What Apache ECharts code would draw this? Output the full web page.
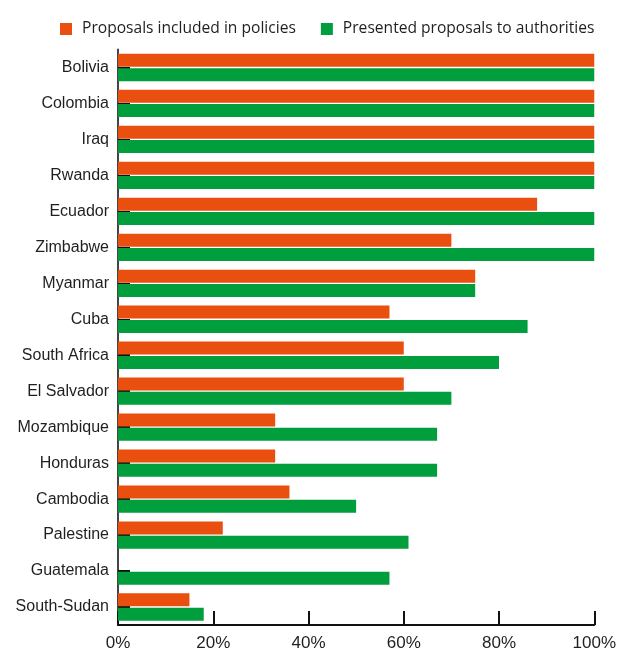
<!DOCTYPE html>
<html>
<head>
<meta charset="utf-8">
<script src="https://cdn.jsdelivr.net/npm/echarts@6/dist/echarts.min.js"></script>
<style>
  html, body { margin: 0; padding: 0; background: #fff; }
  #chart { width: 619px; height: 652px; }
</style>
</head>
<body>
<div id="chart"></div>
<script>
// Countries, top to bottom
const countries = [
  'Bolivia', 'Colombia', 'Iraq', 'Rwanda', 'Ecuador', 'Zimbabwe', 'Myanmar',
  'Cuba', 'South Africa', 'El Salvador', 'Mozambique', 'Honduras',
  'Cambodia', 'Palestine', 'Guatemala', 'South-Sudan'
];
// Share of proposals included in policies (%)
const includedInPolicies = [100, 100, 100, 100, 88, 70, 75, 57, 60, 60, 33, 33, 36, 22, 0, 15];
// Share of proposals presented to authorities (%)
const presentedToAuthorities = [100, 100, 100, 100, 100, 100, 75, 86, 80, 70, 67, 67, 50, 61, 57, 18];
// Percentage axis ticks
const xTicks = [0, 20, 40, 60, 80, 100];

const FONT = '"Liberation Sans", Arial, Helvetica, sans-serif';
const LEGEND_FONT = '"Open Sans", "Noto Sans", sans-serif';
const TEXT = '#1f1f1f';

const chart = echarts.init(document.getElementById('chart'), null, { renderer: 'canvas' });

chart.setOption({
  animation: false,
  backgroundColor: '#ffffff',
  textStyle: { fontFamily: FONT },
  legend: {
    left: 55,
    top: 16,
    itemWidth: 12,
    itemHeight: 12,
    itemGap: 25,
    icon: 'rect',
    textStyle: { fontFamily: LEGEND_FONT, fontSize: 15.6, color: TEXT, padding: [1, 0, 0, 5] },
    data: ['Proposals included in policies', 'Presented proposals to authorities']
  },
  grid: {
    left: 118,
    right: 24,
    top: 49.5,
    bottom: 26,
    containLabel: false
  },
  xAxis: {
    type: 'value',
    min: xTicks[0],
    max: xTicks[xTicks.length - 1],
    interval: xTicks[1] - xTicks[0],
    axisLine: { show: true, lineStyle: { color: '#111', width: 2 } },
    axisTick: { show: true, inside: true, length: 14, lineStyle: { color: '#111', width: 2 } },
    splitLine: { show: false },
    axisLabel: {
      fontFamily: FONT,
      fontSize: 17,
      color: TEXT,
      margin: 10,
      formatter: v => v + '%'
    }
  },
  yAxis: {
    type: 'category',
    inverse: true,
    data: countries,
    axisLine: { show: true, lineStyle: { color: '#444', width: 2 } },
    axisTick: { show: true, inside: true, length: 12, alignWithLabel: true, lineStyle: { color: '#111', width: 2 } },
    axisLabel: { fontFamily: FONT, fontSize: 16, color: TEXT, margin: 9 }
  },
  series: [
    {
      name: 'Proposals included in policies',
      type: 'bar',
      data: includedInPolicies,
      barWidth: 13,
      barGap: '10%',
      itemStyle: { color: '#e94f0f' }
    },
    {
      name: 'Presented proposals to authorities',
      type: 'bar',
      data: presentedToAuthorities,
      barWidth: 13,
      barGap: '10%',
      itemStyle: { color: '#009e3d' }
    }
  ]
});
</script>
</body>
</html>
